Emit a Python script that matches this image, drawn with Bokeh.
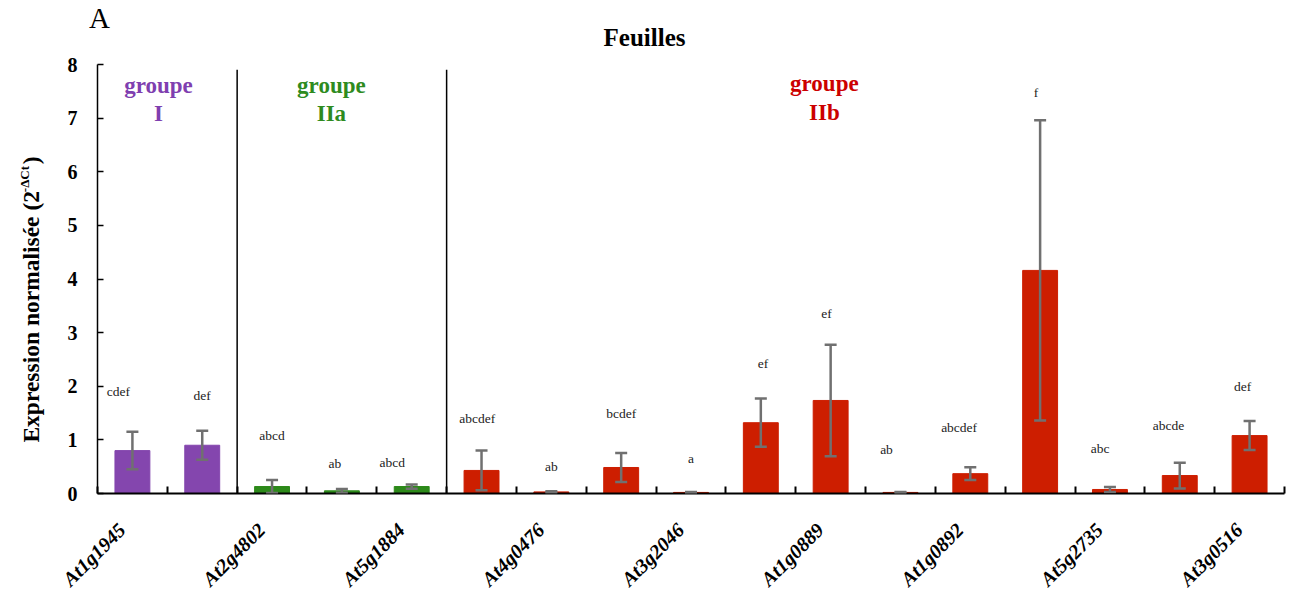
import math
from bokeh.plotting import figure
from bokeh.layouts import column, row
from bokeh.models import (Range1d, FixedTicker, ColumnDataSource, Whisker, TeeHead, LabelSet, Label)
from bokeh.core.properties import value
from bokeh.embed import file_html
from bokeh.resources import INLINE

# ---- data ----
genes = ["At1g1945", "", "At2g4802", "", "At5g1884", "", "At4g0476", "", "At3g2046", "",
         "At1g0889", "", "At1g0892", "", "At5g2735", "", "At3g0516"]
groups = ["I", "I", "IIa", "IIa", "IIa"] + ["IIb"] * 12
expression = [0.80, 0.90, 0.13, 0.05, 0.13, 0.43, 0.03, 0.485, 0.02, 1.32, 1.735,
              0.02, 0.37, 4.16, 0.075, 0.335, 1.08]
error = [0.35, 0.27, 0.12, 0.035, 0.04, 0.37, 0.01, 0.27, 0.006, 0.45, 1.04,
         0.006, 0.12, 2.80, 0.045, 0.24, 0.27]
letters = ["cdef", "def", "abcd", "ab", "abcd", "abcdef", "ab", "bcdef", "a", "ef", "ef",
           "ab", "abcdef", "f", "abc", "abcde", "def"]
letter_height = [1.90, 1.83, 1.08, 0.56, 0.58, 1.40, 0.50, 1.50, 0.66, 2.43, 3.36,
                 0.815, 1.24, 7.48, 0.83, 1.27, 2.00]
group_names = ["I", "IIa", "IIb"]
group_bounds = [2, 5]
title = "Feuilles"
panel = "A"
ylabel_main = "Expression normalisée (2"
ylabel_sup = "-ΔCt"
ylabel_end = ")"

# ---- styling ----
bar_colors = {"I": "#8446AE", "IIa": "#2D8A1A", "IIb": "#CD1E00"}
text_colors = {"I": "#7F3FB0", "IIa": "#2E8B1E", "IIb": "#CC0000"}
letter_dx = [-0.20, 0.0, 0.0, -0.10, -0.28, -0.06, 0.0, 0.0, 0.0, 0.03, -0.06,
             -0.20, -0.16, -0.06, -0.14, -0.16, -0.10]
SERIF = "Liberation Serif"
BT, BB = 12, 108   # border top / bottom of the plot row

n = len(expression)
xc = [i + 0.5 for i in range(n)]

src = ColumnDataSource(dict(
    x=xc, top=expression,
    upper=[v + e for v, e in zip(expression, error)],
    lower=[max(v - e, 0) for v, e in zip(expression, error)],
    color=[bar_colors[g] for g in groups],
    lx=[x + d for x, d in zip(xc, letter_dx)], ly=letter_height, lt=letters,
))

# ---------------- main plot ----------------
yr = Range1d(0, 8)
p = figure(width=1241, height=549, x_range=Range1d(0, 17), y_range=yr,
           output_backend="svg", toolbar_location=None, title=None,
           min_border_left=52, min_border_right=2, min_border_top=BT, min_border_bottom=BB)
p.outline_line_color = None
p.xgrid.grid_line_color = None
p.ygrid.grid_line_color = None

p.vbar(x="x", top="top", width=0.5, color="color", source=src)

p.add_layout(Whisker(source=src, base="x", upper="upper", lower="lower", line_color="#707070",
                     line_width=2.5, level="overlay",
                     upper_head=TeeHead(size=12, line_color="#707070", line_width=2.5),
                     lower_head=TeeHead(size=12, line_color="#707070", line_width=2.5)))

p.segment(x0=group_bounds, y0=[0, 0], x1=group_bounds, y1=[7.9, 7.9],
          line_color="black", line_width=1.5)

p.add_layout(LabelSet(x="lx", y="ly", text="lt", source=src, text_align="center",
                      text_baseline="middle", text_font=value(SERIF),
                      text_font_size=value("13.5px"), text_color="#222222"))

gpos = {"I": (0.874, 7.61, 7.09), "IIa": (3.35, 7.61, 7.09), "IIb": (10.41, 7.65, 7.11)}
for g in group_names:
    gx, gy1, gy2 = gpos[g]
    for txt, gy in (("groupe", gy1), (g, gy2)):
        p.add_layout(Label(x=gx, y=gy, text=txt, text_align="center", text_baseline="middle",
                           text_font=SERIF, text_font_style="bold", text_font_size="23px",
                           text_color=text_colors[g]))

xa = p.xaxis[0]
lab_ticks = [round(c - 0.15, 2) for c, g in zip(xc, genes) if g]
xa.ticker = FixedTicker(ticks=lab_ticks, minor_ticks=list(range(0, 18)))
xa.major_label_overrides = {t: g for t, g in zip(lab_ticks, [g for g in genes if g])}
xa.major_label_orientation = math.pi / 4
xa.major_label_standoff = 33
xa.major_label_text_font = SERIF
xa.major_label_text_font_style = "bold italic"
xa.major_label_text_font_size = "20px"
xa.major_label_text_color = "black"
xa.major_tick_line_color = None
xa.major_tick_in = 0
xa.major_tick_out = 0
xa.minor_tick_in = 7
xa.minor_tick_out = 0
xa.minor_tick_line_width = 2
xa.minor_tick_line_color = "black"
xa.axis_line_width = 2
xa.axis_line_color = "black"

ya = p.yaxis[0]
ya.ticker = FixedTicker(ticks=list(range(0, 9)))
ya.major_tick_in = 6
ya.major_tick_out = 0
ya.minor_tick_line_color = None
ya.axis_line_width = 1.5
ya.major_tick_line_width = 1.5
ya.major_label_standoff = 20
ya.major_label_text_font = SERIF
ya.major_label_text_font_style = "bold"
ya.major_label_text_font_size = "20px"
ya.major_label_text_color = "black"

# ---------------- y-axis title panel (shares the y scale) ----------------
left = figure(width=45, height=549, x_range=Range1d(0, 45), y_range=yr,
              output_backend="svg", toolbar_location=None, title=None,
              x_axis_type=None, y_axis_type=None, min_border_left=0, min_border_right=0,
              min_border_top=BT, min_border_bottom=BB)
left.outline_line_color = None
left.grid.visible = False
left.text(x=[30], y=[0.95], text=[ylabel_main], angle=math.pi / 2,
          text_align="left", text_baseline="alphabetic", text_font=value(SERIF),
          text_font_style="bold", text_font_size=value("23.5px"), text_color="black")
left.text(x=[24], y=[5.62], text=[ylabel_sup], angle=math.pi / 2,
          text_align="left", text_baseline="alphabetic", text_font=value(SERIF),
          text_font_style="bold", text_font_size=value("13px"), text_color="black")
left.text(x=[30], y=[6.14], text=[ylabel_end], angle=math.pi / 2,
          text_align="left", text_baseline="alphabetic", text_font=value(SERIF),
          text_font_style="bold", text_font_size=value("23.5px"), text_color="black")

# ---------------- title panel ----------------
top = figure(width=1286, height=52, x_range=Range1d(0, 1286), y_range=Range1d(0, 52),
             output_backend="svg", toolbar_location=None, title=None,
             x_axis_type=None, y_axis_type=None, min_border=0)
top.outline_line_color = None
top.grid.visible = False
top.text(x=[99], y=[35], text=[panel], text_align="center", text_baseline="middle",
         text_font=value(SERIF), text_font_size=value("29px"), text_color="black")
top.text(x=[644], y=[15], text=[title], text_align="center", text_baseline="middle",
         text_font=value(SERIF), text_font_style="bold", text_font_size=value("25px"),
         text_color="black")

layout = column(top, row(left, p))
open("out.html", "w").write(file_html(layout, INLINE))
